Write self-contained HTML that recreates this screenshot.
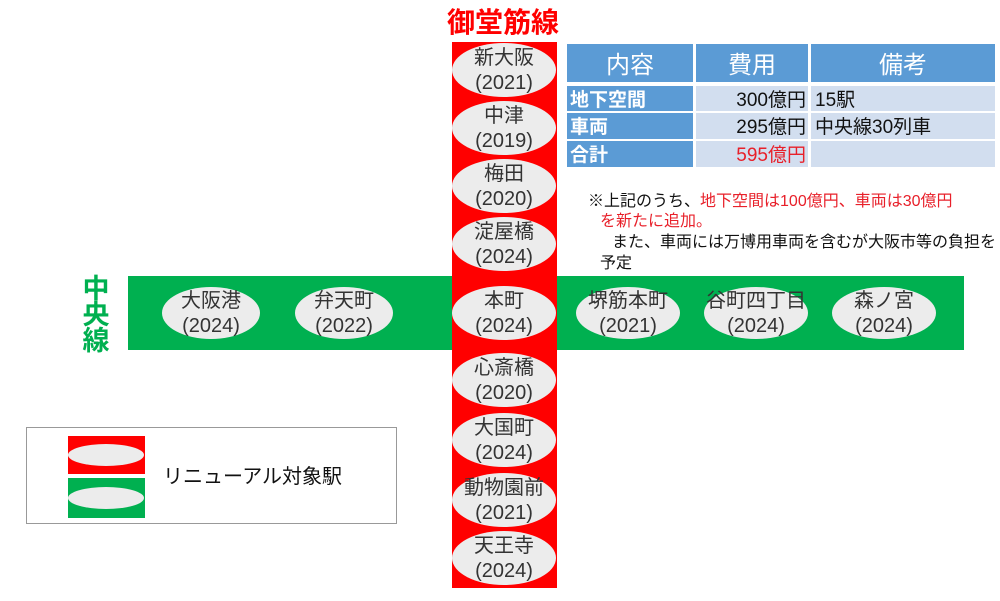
<!DOCTYPE html>
<html><head><meta charset="utf-8"><style>
body{margin:0;background:#fff}
svg text{font-family:"Liberation Sans","Noto Sans CJK JP",sans-serif}
</style></head><body>
<svg width="1000" height="596" viewBox="0 0 1000 596" xmlns="http://www.w3.org/2000/svg">
<rect x="128" y="276" width="836" height="74" fill="#00b050"/>
<rect x="452" y="42" width="105" height="546" fill="#ff0000"/>
<text x="503" y="32" font-size="28" font-weight="bold" fill="#ff0000" text-anchor="middle">御堂筋線</text>
<g font-size="27" font-weight="bold" fill="#00b050" text-anchor="middle">
<text x="96" y="298">中</text><text x="96" y="324">央</text><text x="96" y="350">線</text></g>
<g fill="#ececec">
<ellipse cx="504" cy="70" rx="52" ry="27"/>
<ellipse cx="504" cy="128" rx="52" ry="27"/>
<ellipse cx="504" cy="186" rx="52" ry="27"/>
<ellipse cx="504" cy="244" rx="52" ry="27"/>
<ellipse cx="504" cy="313" rx="52" ry="27"/>
<ellipse cx="504" cy="380" rx="52" ry="27"/>
<ellipse cx="504" cy="440" rx="52" ry="27"/>
<ellipse cx="504" cy="500" rx="52" ry="27"/>
<ellipse cx="504" cy="558" rx="52" ry="27"/>
<ellipse cx="211" cy="313" rx="49" ry="26"/>
<ellipse cx="344" cy="313" rx="49" ry="26"/>
<ellipse cx="628" cy="313" rx="52" ry="26"/>
<ellipse cx="756" cy="313" rx="52" ry="26"/>
<ellipse cx="884" cy="313" rx="52" ry="26"/>
</g>
<g font-size="20" fill="#333" text-anchor="middle">
<text x="504" y="64">新大阪</text><text x="504" y="89">(2021)</text>
<text x="504" y="122">中津</text><text x="504" y="147">(2019)</text>
<text x="504" y="180">梅田</text><text x="504" y="205">(2020)</text>
<text x="504" y="238">淀屋橋</text><text x="504" y="263">(2024)</text>
<text x="504" y="307">本町</text><text x="504" y="332">(2024)</text>
<text x="504" y="374">心斎橋</text><text x="504" y="399">(2020)</text>
<text x="504" y="434">大国町</text><text x="504" y="459">(2024)</text>
<text x="504" y="494">動物園前</text><text x="504" y="519">(2021)</text>
<text x="504" y="552">天王寺</text><text x="504" y="577">(2024)</text>
<text x="211" y="307">大阪港</text><text x="211" y="332">(2024)</text>
<text x="344" y="307">弁天町</text><text x="344" y="332">(2022)</text>
<text x="628" y="307">堺筋本町</text><text x="628" y="332">(2021)</text>
<text x="756" y="307">谷町四丁目</text><text x="756" y="332">(2024)</text>
<text x="884" y="307">森ノ宮</text><text x="884" y="332">(2024)</text>
</g>
<g fill="#5b9bd5">
<rect x="567" y="44" width="126" height="38"/><rect x="696" y="44" width="112" height="38"/><rect x="811" y="44" width="184" height="38"/>
<rect x="567" y="86" width="126" height="25"/><rect x="567" y="113" width="126" height="26"/><rect x="567" y="141" width="126" height="26"/>
</g>
<g fill="#d2deef">
<rect x="696" y="86" width="112" height="25"/><rect x="811" y="86" width="184" height="25"/>
<rect x="696" y="113" width="112" height="26"/><rect x="811" y="113" width="184" height="26"/>
<rect x="696" y="141" width="112" height="26"/><rect x="811" y="141" width="184" height="26"/>
</g>
<g font-size="24" fill="#fff" text-anchor="middle">
<text x="630" y="73">内容</text><text x="752" y="73">費用</text><text x="903" y="73">備考</text></g>
<g font-size="19" font-weight="bold" fill="#fff">
<text x="570" y="106">地下空間</text><text x="570" y="133">車両</text><text x="570" y="161">合計</text></g>
<g font-size="19" fill="#111">
<text x="806" y="106" text-anchor="end">300億円</text>
<text x="806" y="133" text-anchor="end">295億円</text>
<text x="806" y="161" text-anchor="end" fill="#e8202a">595億円</text>
<text x="815" y="106">15駅</text><text x="815" y="133">中央線30列車</text></g>
<g font-size="16" fill="#111">
<text x="588" y="206">※上記のうち、<tspan fill="#e8202a">地下空間は100億円、車両は30億円</tspan></text>
<text x="600" y="226" fill="#e8202a">を新たに追加。</text>
<text x="612" y="247">また、車両には万博用車両を含むが大阪市等の負担を</text>
<text x="600" y="268">予定</text></g>
<rect x="26.5" y="427.5" width="370" height="96" fill="#fff" stroke="#999" stroke-width="1"/>
<rect x="68" y="436" width="77" height="38" fill="#ff0000"/>
<ellipse cx="106" cy="455" rx="38" ry="11" fill="#ececec"/>
<rect x="68" y="478" width="77" height="40" fill="#00b050"/>
<ellipse cx="106" cy="498" rx="38" ry="11" fill="#ececec"/>
<text x="163" y="483" font-size="20" fill="#111">リニューアル対象駅</text>
</svg>
</body></html>
